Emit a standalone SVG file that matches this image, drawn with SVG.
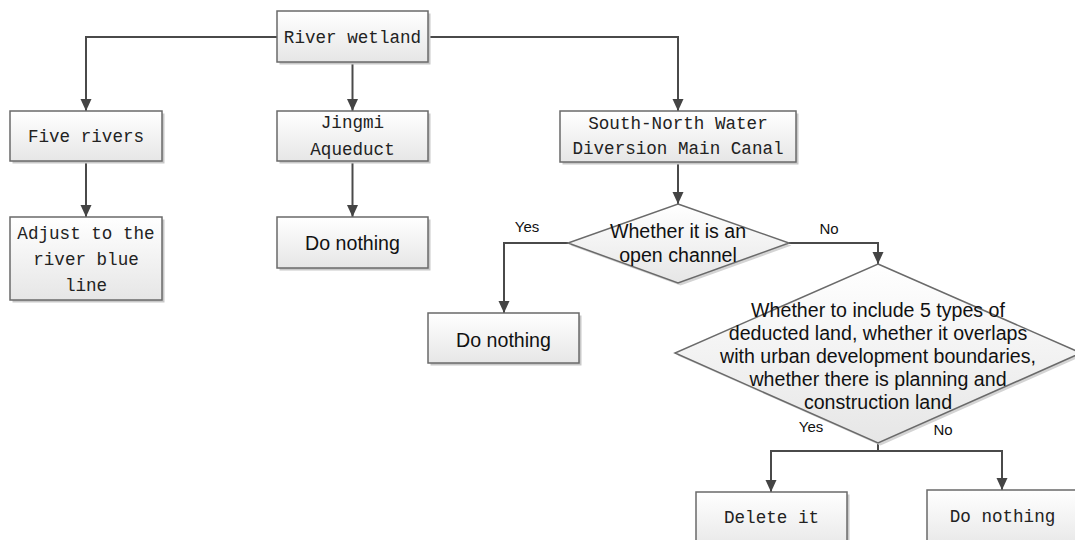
<svg xmlns="http://www.w3.org/2000/svg" width="1075" height="540" viewBox="0 0 1075 540">
<defs>
<linearGradient id="g" x1="0" y1="0" x2="0" y2="1">
<stop offset="0" stop-color="#ffffff"/>
<stop offset="1" stop-color="#e6e6e6"/>
</linearGradient>
<marker id="arr" viewBox="0 0 12 12" refX="12" refY="6" markerWidth="12" markerHeight="12" markerUnits="userSpaceOnUse" orient="auto">
<path d="M0,0.5 L12,6 L0,11.5 z" fill="#444"/>
</marker>
</defs>
<style>
.box{fill:url(#g);stroke:#6a6a6a;stroke-width:1.5}
.sh{fill:#c8c8c8}
.mono{font-family:"Liberation Mono","DejaVu Sans Mono",monospace;font-size:17.6px;fill:#222;text-anchor:middle}
.sans{font-family:"Liberation Sans","Open Sans",sans-serif;font-size:19.6px;fill:#111;text-anchor:middle}
.lab{font-family:"Liberation Sans","Open Sans",sans-serif;font-size:15px;fill:#111;text-anchor:middle}
.c{fill:none;stroke:#4a4a4a;stroke-width:2}
</style>
<rect width="1075" height="540" fill="#ffffff"/>
<g id="connectors">
<path class="c" d="M277,37 H86 V111" marker-end="url(#arr)"/>
<path class="c" d="M352.5,62 V111" marker-end="url(#arr)"/>
<path class="c" d="M428,37 H678 V111" marker-end="url(#arr)"/>
<path class="c" d="M86,161 V217" marker-end="url(#arr)"/>
<path class="c" d="M352.5,161 V217" marker-end="url(#arr)"/>
<path class="c" d="M678,162 V204" marker-end="url(#arr)"/>
<path class="c" d="M568,243 H504 V313" marker-end="url(#arr)"/>
<path class="c" d="M789,243 H878 V264" marker-end="url(#arr)"/>
<path class="c" d="M878,443 V451 H771 V492" marker-end="url(#arr)"/>
<path class="c" d="M878,451 H1002 V490" marker-end="url(#arr)"/>
<text class="lab" x="527" y="232">Yes</text>
<text class="lab" x="829" y="234">No</text>
<text class="lab" x="811" y="432">Yes</text>
<text class="lab" x="943" y="435">No</text>
</g>
<g id="river-wetland">
<rect class="sh" x="279.5" y="13.5" width="151" height="51"/>
<rect class="box" x="277" y="11" width="151" height="51"/>
<text class="mono" x="352.5" y="43">River wetland</text>
</g>
<g id="five-rivers">
<rect class="sh" x="12.5" y="113.5" width="152" height="50"/>
<rect class="box" x="10" y="111" width="152" height="50"/>
<text class="mono" x="86" y="142">Five rivers</text>
</g>
<g id="jingmi">
<rect class="sh" x="279.5" y="113.5" width="151" height="50"/>
<rect class="box" x="277" y="111" width="151" height="50"/>
<text class="mono" x="352.5" y="128">Jingmi</text>
<text class="mono" x="352.5" y="155">Aqueduct</text>
</g>
<g id="south-north">
<rect class="sh" x="562.5" y="113.5" width="236" height="51"/>
<rect class="box" x="560" y="111" width="236" height="51"/>
<text class="mono" x="678" y="129">South-North Water</text>
<text class="mono" x="678" y="154">Diversion Main Canal</text>
</g>
<g id="adjust">
<rect class="sh" x="12.5" y="219.5" width="152" height="83"/>
<rect class="box" x="10" y="217" width="152" height="83"/>
<text class="mono" x="86" y="239">Adjust to the</text>
<text class="mono" x="86" y="265">river blue</text>
<text class="mono" x="86" y="291">line</text>
</g>
<g id="do-nothing-1">
<rect class="sh" x="279.5" y="219.5" width="151" height="51"/>
<rect class="box" x="277" y="217" width="151" height="51"/>
<text class="sans" x="352.5" y="250">Do nothing</text>
</g>
<g id="open-channel">
<polygon points="680.5,206.5 791.5,245.5 680.5,285.5 570.5,245.5" fill="#d4d4d4"/>
<polygon class="box" points="678,204 789,243 678,283 568,243"/>
<text class="sans" x="678" y="238">Whether it is an</text>
<text class="sans" x="678" y="262">open channel</text>
</g>
<g id="do-nothing-2">
<rect class="sh" x="430.5" y="315.5" width="151" height="50"/>
<rect class="box" x="428" y="313" width="151" height="50"/>
<text class="sans" x="503.5" y="347">Do nothing</text>
</g>
<g id="deducted-land">
<polygon points="880.5,266.5 1083.5,355.5 880.5,445.5 677.5,355.5" fill="#d4d4d4"/>
<polygon class="box" points="878,264 1081,353 878,443 675,353"/>
<text class="sans" x="878" y="317">Whether to include 5 types of</text>
<text class="sans" x="878" y="340">deducted land, whether it overlaps</text>
<text class="sans" x="878" y="363">with urban development boundaries,</text>
<text class="sans" x="878" y="386">whether there is planning and</text>
<text class="sans" x="878" y="409">construction land</text>
</g>
<g id="delete-it">
<rect class="sh" x="698.5" y="494.5" width="151" height="60"/>
<rect class="box" x="696" y="492" width="151" height="60"/>
<text class="mono" x="771.5" y="523">Delete it</text>
</g>
<g id="do-nothing-3">
<rect class="sh" x="929.5" y="492.5" width="151" height="60"/>
<rect class="box" x="927" y="490" width="151" height="60"/>
<text class="mono" x="1002.5" y="522">Do nothing</text>
</g>
</svg>
